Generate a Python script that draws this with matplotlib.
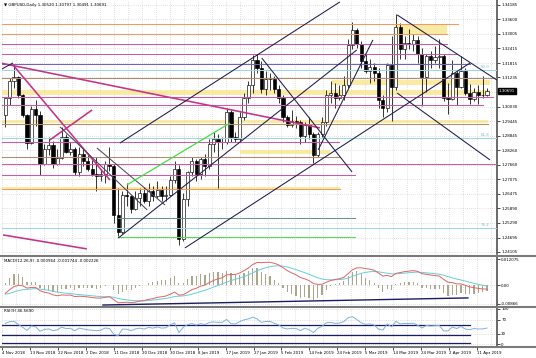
import numpy as np
import pandas as pd
import matplotlib
matplotlib.use("Agg")
import matplotlib.pyplot as plt
from matplotlib.lines import Line2D

# GBPUSD daily candles, 5 Nov 2018 .. 11 Apr 2019
opens = [1.2970, 1.3040, 1.3110, 1.3125, 1.3050, 1.2970, 1.2855, 1.2995, 1.2970, 1.2770,
         1.2830, 1.2848, 1.2770, 1.2795, 1.2880, 1.2820, 1.2830, 1.2735, 1.2810, 1.2780,
         1.2750, 1.2730, 1.2720, 1.2730, 1.2770, 1.2760, 1.2560, 1.2490, 1.2645, 1.2640,
         1.2585, 1.2630, 1.2650, 1.2620, 1.2660, 1.2640, 1.2665, 1.2640, 1.2645, 1.2705,
         1.2750, 1.2465, 1.2625, 1.2735, 1.2780, 1.2730, 1.2790, 1.2760, 1.2850, 1.2870,
         1.2860, 1.2860, 1.2980, 1.2880, 1.2870, 1.2960, 1.3040, 1.3090, 1.3195, 1.3160,
         1.3075, 1.3115, 1.3115, 1.3075, 1.3040, 1.2960, 1.2930, 1.2945, 1.2940, 1.2885,
         1.2930, 1.2890, 1.2805, 1.2890, 1.2940, 1.3050, 1.3060, 1.3040, 1.3050, 1.3090,
         1.3255, 1.3315, 1.3260, 1.3190, 1.3150, 1.3165, 1.3140, 1.3030, 1.3000, 1.3175,
         1.3085, 1.3330, 1.3240, 1.3265, 1.3260, 1.3275, 1.3220, 1.3125, 1.3210, 1.3195,
         1.3205, 1.3210, 1.3040, 1.3035, 1.3140, 1.3085, 1.3150, 1.3060, 1.3035, 1.3065,
         1.3050, 1.30520]
highs = [1.3045, 1.3120, 1.3175, 1.3130, 1.3055, 1.2975, 1.3005, 1.3030, 1.2985, 1.2850,
         1.2880, 1.2865, 1.2830, 1.2920, 1.2890, 1.2860, 1.2840, 1.2840, 1.2830, 1.2805,
         1.2785, 1.2800, 1.2750, 1.2780, 1.2840, 1.2770, 1.2670, 1.2660, 1.2690, 1.2645,
         1.2660, 1.2670, 1.2675, 1.2690, 1.2680, 1.2700, 1.2680, 1.2680, 1.2720, 1.2780,
         1.2765, 1.2650, 1.2740, 1.2800, 1.2790, 1.2800, 1.2810, 1.2870, 1.2900, 1.2890,
         1.2880, 1.3000, 1.2990, 1.2900, 1.2980, 1.3060, 1.3110, 1.3215, 1.3220, 1.3190,
         1.3150, 1.3140, 1.3130, 1.3090, 1.3050, 1.2970, 1.2990, 1.2965, 1.2950, 1.2940,
         1.2960, 1.2900, 1.2900, 1.2960, 1.3070, 1.3110, 1.3100, 1.3090, 1.3130, 1.3280,
         1.3350, 1.3325, 1.3270, 1.3220, 1.3200, 1.3180, 1.3160, 1.3050, 1.3180, 1.3290,
         1.3380, 1.3345, 1.3290, 1.3320, 1.3300, 1.3290, 1.3245, 1.3220, 1.3230, 1.3250,
         1.3280, 1.3220, 1.3100, 1.3195, 1.3150, 1.3210, 1.3160, 1.3095, 1.3080, 1.3090,
         1.3130, 1.30797]
lows = [1.2920, 1.3010, 1.3080, 1.3040, 1.2960, 1.2830, 1.2850, 1.2925, 1.2725, 1.2765,
        1.2805, 1.2755, 1.2765, 1.2790, 1.2815, 1.2805, 1.2725, 1.2720, 1.2760, 1.2740,
        1.2720, 1.2660, 1.2700, 1.2690, 1.2740, 1.2530, 1.2475, 1.2485, 1.2600, 1.2570,
        1.2580, 1.2600, 1.2610, 1.2600, 1.2620, 1.2630, 1.2620, 1.2620, 1.2640, 1.2690,
        1.2440, 1.2455, 1.2600, 1.2720, 1.2700, 1.2710, 1.2720, 1.2750, 1.2820, 1.2670,
        1.2830, 1.2850, 1.2860, 1.2860, 1.2860, 1.2950, 1.3020, 1.3060, 1.3140, 1.3060,
        1.3050, 1.3070, 1.3060, 1.3020, 1.2940, 1.2920, 1.2920, 1.2915, 1.2850, 1.2860,
        1.2870, 1.2775, 1.2800, 1.2880, 1.2925, 1.3020, 1.3000, 1.3030, 1.3030, 1.3080,
        1.3240, 1.3245, 1.3160, 1.3140, 1.3100, 1.3110, 1.3000, 1.2960, 1.2980, 1.2945,
        1.3070, 1.3200, 1.3200, 1.3240, 1.3230, 1.3180, 1.3005, 1.3065, 1.3160, 1.3180,
        1.3160, 1.3025, 1.2975, 1.3030, 1.3010, 1.3080, 1.3050, 1.3015, 1.3025, 1.3015,
        1.3040, 1.30491]
closes = [1.3040, 1.3110, 1.3125, 1.3050, 1.2970, 1.2855, 1.2995, 1.2970, 1.2770, 1.2830,
          1.2848, 1.2770, 1.2795, 1.2880, 1.2820, 1.2830, 1.2735, 1.2810, 1.2780, 1.2750,
          1.2730, 1.2720, 1.2730, 1.2770, 1.2760, 1.2560, 1.2490, 1.2645, 1.2640, 1.2585,
          1.2630, 1.2650, 1.2620, 1.2660, 1.2640, 1.2665, 1.2640, 1.2645, 1.2705, 1.2750,
          1.2465, 1.2625, 1.2735, 1.2780, 1.2730, 1.2790, 1.2760, 1.2850, 1.2870, 1.2860,
          1.2860, 1.2980, 1.2880, 1.2870, 1.2960, 1.3040, 1.3090, 1.3195, 1.3160, 1.3075,
          1.3115, 1.3115, 1.3075, 1.3040, 1.2960, 1.2930, 1.2945, 1.2940, 1.2885, 1.2930,
          1.2890, 1.2805, 1.2890, 1.2940, 1.3050, 1.3060, 1.3040, 1.3050, 1.3090, 1.3255,
          1.3315, 1.3260, 1.3190, 1.3150, 1.3165, 1.3140, 1.3030, 1.3000, 1.3175, 1.3085,
          1.3330, 1.3240, 1.3265, 1.3260, 1.3275, 1.3220, 1.3125, 1.3210, 1.3195, 1.3205,
          1.3210, 1.3040, 1.3035, 1.3140, 1.3085, 1.3150, 1.3060, 1.3035, 1.3065, 1.3050,
          1.3052, 1.30691]

# Sep/Oct 2018 closes, only used to warm up the indicators
prior_closes = [1.2870, 1.2850, 1.2885, 1.2925, 1.2920, 1.3030, 1.3030, 1.3030, 1.3115, 1.3070,
                1.3150, 1.3135, 1.3170, 1.3270, 1.3070, 1.3160, 1.3190, 1.3125, 1.3070, 1.3035,
                1.3030, 1.2965, 1.2975, 1.3030, 1.3110, 1.3135, 1.3140, 1.3165, 1.3225, 1.3155,
                1.3150, 1.3155, 1.3110, 1.3040, 1.3060, 1.2980, 1.2965, 1.2885, 1.2800, 1.2815,
                1.2790, 1.2720, 1.2770, 1.2995, 1.2970]

header = "\u25bc GBPUSD,Daily 1.30520 1.30797 1.30491 1.30691"
macd_title = "MACD(12,26,9) -0.000964 -0.001744 -0.002226"
rsi_title = "RSI(9) 46.5690"

price_ticks = [1.34185, 1.33600, 1.33005, 1.32415, 1.31815, 1.31235, 1.30635, 1.30030,
               1.29445, 1.28845, 1.28260, 1.27660, 1.27075, 1.26475, 1.25890, 1.25290,
               1.24695, 1.24105]
macd_ticks = [0.012075, 0.0, -0.00866]
macd_tick_labels = ["0.012075", "0.00", "-0.00866"]
rsi_ticks = [100, 70, 30, 0]
date_labels = ["4 Nov 2018", "13 Nov 2018", "22 Nov 2018", "2 Dec 2018", "11 Dec 2018",
               "20 Dec 2018", "30 Dec 2018", "8 Jan 2019", "17 Jan 2019", "27 Jan 2019",
               "5 Feb 2019", "14 Feb 2019", "24 Feb 2019", "5 Mar 2019", "14 Mar 2019",
               "24 Mar 2019", "2 Apr 2019", "11 Apr 2019"]

# horizontal levels drawn on the chart (price, first bar, last bar, kind)
h_price = [1.3341, 1.3300, 1.3259, 1.3219, 1.3178, 1.3153, 1.3121, 1.3043, 1.3010, 1.2933,
           1.2876, 1.2859, 1.2798, 1.2768, 1.2725, 1.2668, 1.2549, 1.2508, 1.2471]
h_start = [-1, -1, -1, -1, -1, -1, -1, -1, -1, -1, -1, -1, -1, -1, -1, -1, 26.0, -1, 26.0]
h_end = [104.3, 101.8, 101.8, 104.1, 107.1, 114, 114, 112.4, 110.1, 111.2,
         114, 77.0, 77.1, 114, 80.6, 77.1, 80.6, 114, 80.6]
h_kind = ["orange", "orange", "magenta", "magenta", "purple", "fib", "brown", "magenta",
          "magenta", "brown", "fib", "magenta", "brown", "magenta", "magenta", "orange",
          "teal", "fib", "green"]

# yellow zones
band_lo = [1.3300, 1.3092, 1.3051, 1.2937, 1.2811, 1.2664]
band_hi = [1.3337, 1.3112, 1.3071, 1.2949, 1.2827, 1.2676]
band_start = [89.8, 75.3, -1, -1, 54.1, -1]
band_end = [101.8, 111.7, 111.7, 111.2, 74.8, 77.1]

# fibonacci labels
fib_names = ["50.0", "61.8", "76.4"]
fib_price = [1.3153, 1.2876, 1.2508]

# trend lines (bar, price) -> (bar, price)
tl_x0 = [-1.22, 1.77, 10.3, -0.53, 26.4, 26.0, 41.4, 90.3, 90.3, 59.1, 12.6, 21.1, 28.0, 72.1, -1.22]
tl_p0 = [1.3182, 1.3174, 1.2868, 1.2480, 1.2855, 1.2467, 1.2427, 1.3378, 1.3059, 1.3202,
         1.2921, 1.2835, 1.2684, 1.2827, 1.3153]
tl_x1 = [72.5, 24.1, 20.0, 18.8, 77.1, 81.0, 107.1, 113.3, 111.7, 79.9, 32.7, 36.8, 51.8, 84.7, 1.77]
tl_p1 = [1.2917, 1.2704, 1.2990, 1.2423, 1.3431, 1.3235, 1.3182, 1.3112, 1.2786, 1.2737,
         1.2582, 1.2602, 1.2937, 1.3276, 1.3182]
tl_kind = ["magenta", "magenta", "magenta", "magenta", "navy", "navy", "navy", "navy", "navy",
           "navy", "gray", "gray", "green", "navy", "navy"]

# lines in the indicator windows
macd_tl_x = [22.5, 106.6]
macd_tl_y = [-0.0093, -0.0060]
rsi_levels = [54, 26, 3]
rsi_level_end = 107.1

level_style = {"orange": "#f29a62", "magenta": "#cc5aa6", "purple": "#7264bc", "fib": "#9fd6e6",
               "brown": "#b88a6a", "teal": "#6a9090", "green": "#4ee04e"}
trend_style = {"magenta": ("#c4338a", 1.15), "navy": ("#1c1c50", 0.75),
               "gray": ("#404058", 0.7), "green": ("#44dd44", 0.9)}

# indicators
all_close = pd.Series(prior_closes + closes)
ema12 = all_close.ewm(span=12, adjust=False).mean()
ema26 = all_close.ewm(span=26, adjust=False).mean()
macd_main = ema12 - ema26
macd_signal = macd_main.ewm(span=9, adjust=False).mean()
n = len(closes)
macd_main = macd_main.values[-n:]
macd_signal = macd_signal.values[-n:]
macd_hist = 2 * (macd_main - macd_signal)

diff = all_close.diff()
gain = diff.clip(lower=0).ewm(alpha=1 / 9, adjust=False).mean()
loss = (-diff.clip(upper=0)).ewm(alpha=1 / 9, adjust=False).mean()
rsi = (100 - 100 / (1 + gain / loss)).values[-n:]

# figure, pixel based layout like the terminal window
W, H = 536, 358
fig = plt.figure(figsize=(W / 100, H / 100), dpi=100)
fig.patch.set_facecolor("white")
x_left, x_right = 2, 497
ax = fig.add_axes([x_left / W, 1 - 254 / H, (x_right - x_left) / W, 254 / H])
axm = fig.add_axes([x_left / W, 1 - 305.5 / H, (x_right - x_left) / W, 49 / H])
axr = fig.add_axes([x_left / W, 1 - 346.5 / H, (x_right - x_left) / W, 39.5 / H])

xs = np.arange(n)
xlim = (-0.76, 113.3)
fs = 2.9
grid_kw = dict(color="#c4c4c4", lw=0.5, ls=(0, (1, 2)), zorder=0)

date_pos = (2 + 27.95 * np.arange(len(date_labels)) - 5.3) / 4.34
vgrid = np.concatenate([date_pos, date_pos + 27.95 / 2 / 4.34])

for a in (ax, axm, axr):
    a.set_xlim(*xlim)
    for s in ("top", "left", "bottom"):
        a.spines[s].set_visible(False)
    a.spines["right"].set_color("#505050")
    a.spines["right"].set_linewidth(1.2)
    a.yaxis.tick_right()
    a.tick_params(axis="y", labelsize=fs, length=2, width=0.5, pad=1, colors="black")
    for v in vgrid:
        a.axvline(v, **grid_kw)

# main price window
ax.set_ylim(1.24022, 1.34389)
ax.set_yticks(price_ticks)
ax.set_yticklabels(["" if t == 1.30635 else f"{t:.5f}" for t in price_ticks])
ax.set_xticks([])
for t in price_ticks:
    ax.axhline(t, **grid_kw)

for lo, hi, s, e in zip(band_lo, band_hi, band_start, band_end):
    ax.fill_between([s, e], lo, hi, color="#f8e68e", alpha=0.8, lw=0, zorder=1)

for p, s, e, k in zip(h_price, h_start, h_end, h_kind):
    ax.plot([s, e], [p, p], color=level_style[k], lw=0.75, zorder=3)

for name, p in zip(fib_names, fib_price):
    ax.text(111.5, p + 0.0004, name, color="#7fbfcf", fontsize=fs, ha="right", va="bottom", zorder=4)

up = np.array(closes) >= np.array(opens)
body_lo = np.minimum(opens, closes)
body_h = np.maximum(np.abs(np.array(closes) - np.array(opens)), 0.00008)
ax.vlines(xs, lows, highs, color="black", lw=0.55, zorder=2)
ax.bar(xs, body_h, bottom=body_lo, width=0.72,
       color=np.where(up, "white", "black"), edgecolor="black", linewidth=0.45, zorder=2)

for x0, p0, x1, p1, k in zip(tl_x0, tl_p0, tl_x1, tl_p1, tl_kind):
    c, lw = trend_style[k]
    ax.plot([x0, x1], [p0, p1], color=c, lw=lw, zorder=4, solid_capstyle="butt")

ax.text(1.004, closes[-1], f"{closes[-1]:.5f}", transform=ax.get_yaxis_transform(),
        fontsize=fs, color="white", ha="left", va="center",
        bbox=dict(boxstyle="square,pad=0.25", fc="black", ec="black"), clip_on=False)

fig.text(4 / W, 1 - 5 / H, header, fontsize=fs, ha="left", va="center")

# MACD window
axm.set_ylim(-0.00952, 0.01324)
axm.set_yticks(macd_ticks)
axm.set_yticklabels(macd_tick_labels)
axm.set_xticks([])
for t in macd_ticks:
    axm.axhline(t, **grid_kw)
axm.bar(xs, macd_hist, width=0.28, color="#aaa78c", zorder=2)
axm.plot(xs, macd_signal, color="#66cfd6", lw=0.7, zorder=3)
axm.plot(xs, macd_main, color="#e06464", lw=0.7, zorder=3)
axm.plot(macd_tl_x, macd_tl_y, color="#1c1c60", lw=1.0, zorder=4)
axm.text(0.004, 0.9, macd_title, transform=axm.transAxes, fontsize=fs, va="center")

# RSI window
axr.set_ylim(-7.1, 105.7)
axr.set_yticks(rsi_ticks)
axr.set_yticklabels([str(t) for t in rsi_ticks])
for t in rsi_ticks:
    axr.axhline(t, **grid_kw)
for lv in rsi_levels:
    axr.plot([xlim[0], rsi_level_end], [lv, lv], color="#1c1c60", lw=0.9, zorder=3)
axr.plot(xs, rsi, color="#7eb2e4", lw=0.7, zorder=4)
axr.text(0.004, 0.9, rsi_title, transform=axr.transAxes, fontsize=fs, va="center")
axr.set_xticks(date_pos)
axr.set_xticklabels(date_labels, ha="left")
axr.tick_params(axis="x", labelsize=fs, length=2, width=0.5, pad=1)

# window separators
for y in (255.5, 306.5, 347):
    fig.add_artist(Line2D([0, 1], [1 - y / H, 1 - y / H], color="#7a7a7a", lw=1.5))

fig.savefig("out.png", dpi=100)
